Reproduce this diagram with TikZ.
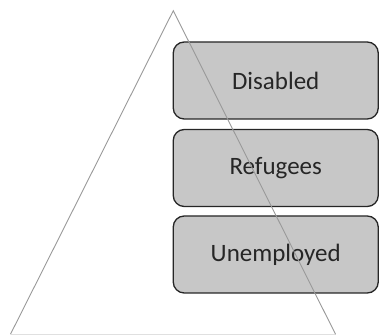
\documentclass[tikz,border=0pt]{standalone}
\usepackage{fontspec}
\setmainfont{Carlito}
\begin{document}
\begin{tikzpicture}[x=1pt,y=1pt,
  tier/.style={draw=black!85, line width=1.3pt, fill=black!22, rounded corners=11pt,
    minimum width=205pt, minimum height=77pt, inner sep=0pt,
    text=black!85, font=\fontsize{25}{30}\selectfont},
  side/.style={draw=black!40, line width=0.9pt},
  basel/.style={draw=black!12, line width=1pt}]
\useasboundingbox (0,0) rectangle (380,336);
\node[tier] (dis) at (275.75,255.5) {Disabled};
\node[tier] (ref) at (275.75,168) {Refugees};
\node[tier] (une) at (275.75,81.5) {Unemployed};
\coordinate (apex) at (173.3,325.3);
\coordinate (bl) at (10.5,1.8);
\coordinate (br) at (335.5,1.8);
\draw[basel] (bl) -- (br);
\draw[side] (bl) -- (apex) -- (br);
\end{tikzpicture}
\end{document}
